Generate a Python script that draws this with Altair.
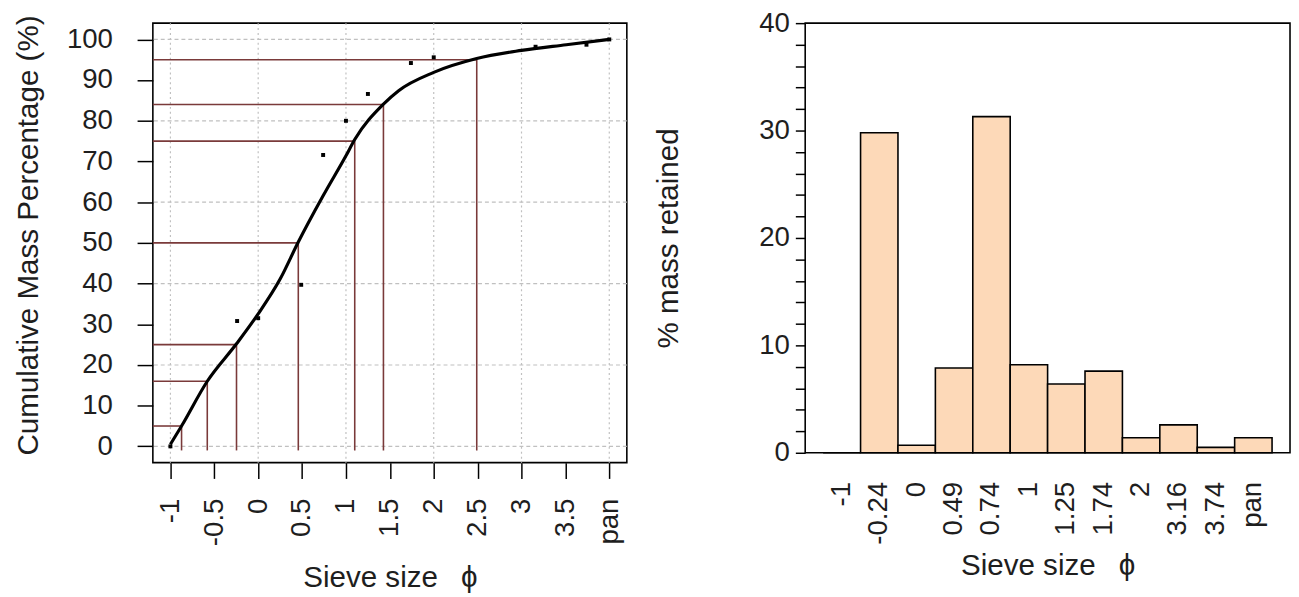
import altair as alt
import pandas as pd

# ---------------- data ----------------
# left panel: cumulative curve
x_domain = [-1.2, 4.2]
y_domain = [-4, 104]
x_tick_vals = [-1, -0.5, 0, 0.5, 1, 1.5, 2, 2.5, 3, 3.5, 4]
x_tick_labels = ["-1", "-0.5", "0", "0.5", "1", "1.5", "2", "2.5", "3", "3.5", "pan"]
y_tick_vals = [0, 10, 20, 30, 40, 50, 60, 70, 80, 90, 100]
grid_x = [-1, 0, 1, 2, 3, 4]
grid_y = [0, 20, 40, 60, 80, 100]

curve_phi = [-1.0, -0.873, -0.58, -0.247, -0.008, 0.25, 0.457, 0.738, 1.0, 1.10,
             1.427, 1.60, 2.0, 2.49, 3.0, 3.51, 4.0]
curve_pct = [0.5, 5.0, 16.0, 25.2, 32.3, 41.1, 50.2, 61.5, 71.4, 75.4,
             84.1, 87.4, 91.9, 95.3, 97.3, 98.7, 100.0]

point_phi = [-1, -0.24, 0, 0.49, 0.74, 1, 1.25, 1.74, 2, 3.16, 3.74, 4]
point_cum = [0, 30.8, 31.5, 39.7, 71.6, 80.0, 86.6, 94.2, 95.6, 98.2, 98.7, 100]

pctl = [5, 16, 25, 50, 75, 84, 95]
pctl_phi = [-0.873, -0.58, -0.247, 0.457, 1.10, 1.427, 2.49]
pctl_floor = -1

# right panel: histogram
sieve_cats = ["-1", "-0.24", "0", "0.49", "0.74", "1", "1.25", "1.74", "2", "3.16", "3.74", "pan"]
retained = [0, 29.8, 0.7, 7.9, 31.3, 8.2, 6.4, 7.6, 1.4, 2.6, 0.5, 1.4]
hist_y_ticks = list(range(0, 41, 2))

X_TITLE = "Sieve size \u2002\u03d5"

# ---------------- styling ----------------
FONT = "Liberation Sans"
TXT = "#1e1e1e"
LINE_RED = "#7a3a3a"
GRID = "#c0c0c0"

xs = alt.Scale(domain=x_domain, nice=False, zero=False)
ys = alt.Scale(domain=y_domain, nice=False, zero=False)

lab_arr = "[" + ",".join("'%s'" % s for s in x_tick_labels) + "]"
val_arr = "[" + ",".join(str(v) for v in x_tick_vals) + "]"
x_label_expr = f"{lab_arr}[indexof({val_arr}, datum.value)]"

x_axis = alt.Axis(values=x_tick_vals, labelExpr=x_label_expr, labelAngle=-90,
                  tickSize=16, tickWidth=1.5, tickColor="black", domain=False, grid=False,
                  labelPadding=20, titlePadding=17, title=X_TITLE)
y_axis = alt.Axis(values=y_tick_vals, labelAngle=0, tickSize=16, tickWidth=1.5,
                  tickColor="black", domain=False, grid=False, labelPadding=25,
                  titlePadding=23, titleY=215, title="Cumulative Mass Percentage (%)")

gx = pd.DataFrame({"g": grid_x})
gy = pd.DataFrame({"g": grid_y})
curve_df = pd.DataFrame({"phi": curve_phi, "pct": curve_pct})
pts_df = pd.DataFrame({"phi": point_phi, "cum": point_cum})
pc_df = pd.DataFrame({"p": pctl, "phi": pctl_phi,
                      "left": [x_domain[0]] * len(pctl), "floor": [pctl_floor] * len(pctl)})

base_axes = alt.Chart(curve_df).mark_point(opacity=0).encode(
    x=alt.X("phi:Q", scale=xs, axis=x_axis),
    y=alt.Y("pct:Q", scale=ys, axis=y_axis),
)

grid_v = alt.Chart(gx).mark_rule(color=GRID, strokeDash=[2, 3], strokeWidth=1.2).encode(
    x=alt.X("g:Q", scale=xs))
grid_h = alt.Chart(gy).mark_rule(color=GRID, strokeDash=[4, 3], strokeWidth=1.2).encode(
    y=alt.Y("g:Q", scale=ys))

hlines = alt.Chart(pc_df).mark_rule(color=LINE_RED, strokeWidth=1.6).encode(
    x=alt.X("left:Q", scale=xs), x2="phi:Q", y=alt.Y("p:Q", scale=ys))
vlines = alt.Chart(pc_df).mark_rule(color=LINE_RED, strokeWidth=1.6).encode(
    x=alt.X("phi:Q", scale=xs), y=alt.Y("p:Q", scale=ys), y2="floor:Q")

curve = alt.Chart(curve_df).mark_line(color="black", strokeWidth=3.2, interpolate="monotone").encode(
    x=alt.X("phi:Q", scale=xs), y=alt.Y("pct:Q", scale=ys))

pts = alt.Chart(pts_df).mark_square(color="black", size=16, opacity=1).encode(
    x=alt.X("phi:Q", scale=xs), y=alt.Y("cum:Q", scale=ys))

left = alt.layer(base_axes, grid_v, grid_h, hlines, vlines, curve, pts).properties(
    width=481, height=446)

hist_df = pd.DataFrame({"cat": sieve_cats, "ret": retained})
right = alt.Chart(hist_df).mark_bar(fill="#FDD9B8", stroke="black", strokeWidth=1.6).encode(
    x=alt.X("cat:N", sort=sieve_cats,
            scale=alt.Scale(paddingInner=0, paddingOuter=0.48),
            axis=alt.Axis(labelAngle=-90, ticks=False, domain=False, labelPadding=29,
                          titlePadding=7, title=X_TITLE)),
    y=alt.Y("ret:Q", scale=alt.Scale(domain=[0, 40], nice=False, zero=True),
            axis=alt.Axis(values=hist_y_ticks,
                          labelExpr="datum.value % 10 == 0 ? datum.label : ''",
                          labelAngle=0, tickSize=10, tickWidth=1.5, tickColor="black",
                          domain=False, grid=False, labelPadding=6, titlePadding=76,
                          title="% mass retained")),
).properties(width=492, height=436)

chart = alt.hconcat(left, right, spacing=25).properties(
    padding={"left": 5, "top": -4, "right": 0, "bottom": 0}
).configure(background="white").configure_view(
    stroke="black", strokeWidth=1.6
).configure_axis(
    labelFont=FONT, titleFont=FONT, labelFontSize=28, titleFontSize=30,
    labelColor=TXT, titleColor=TXT, titleFontWeight="normal",
)

chart.save("out.html", embed_options={"renderer": "svg", "actions": False})
